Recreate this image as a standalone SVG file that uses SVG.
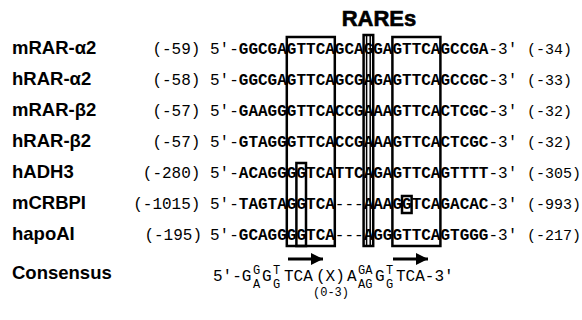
<svg xmlns="http://www.w3.org/2000/svg" width="582" height="320" viewBox="0 0 582 320">
<style>
.lbl{font-family:"Liberation Sans",Arial,sans-serif;font-weight:bold;font-size:18.5px;fill:#000}
.ttl{font-family:"Liberation Sans",Arial,sans-serif;font-weight:bold;font-size:22px;fill:#000;stroke:#000;stroke-width:0.6}
.num{font-family:"Liberation Mono","Courier New",monospace;font-size:16px;fill:#000}
.rn{font-size:15px}
.seq{font-family:"Liberation Mono","Courier New",monospace;font-size:16px;fill:#000}
.b{font-weight:bold}
.box{fill:none;stroke:#000;stroke-width:2.5}
.thin{fill:none;stroke:#000;stroke-width:1.5}
.arr{stroke:#000;stroke-width:3}
.con{font-family:"Liberation Mono","Courier New",monospace;font-size:16px;fill:#000}
.sm{font-size:12px}
</style>
<defs>
<marker id="ah" markerWidth="4" markerHeight="4" refX="4" refY="2" orient="auto" markerUnits="strokeWidth">
<path d="M0,0 L4,2 L0,4 Z" fill="#000"/>
</marker>
</defs>
<text class="ttl" x="379" y="26" text-anchor="middle">RAREs</text>
<g id="row1">
<text class="lbl" x="12" y="54">mRAR-α2</text>
<text class="num" x="200.4" y="54" text-anchor="end">(-59)</text>
<text class="seq" x="210" y="54">5'-<tspan class="b">GGCGAGTTCAGCAGGAGTTCAGCCGA</tspan>-3'</text>
<text class="num rn" x="527" y="54">(-34)</text>
</g>
<g id="row2">
<text class="lbl" x="12" y="85">hRAR-α2</text>
<text class="num" x="200.4" y="85" text-anchor="end">(-58)</text>
<text class="seq" x="210" y="85">5'-<tspan class="b">GGCGAGTTCAGCGAGAGTTCAGCCGC</tspan>-3'</text>
<text class="num rn" x="527" y="85">(-33)</text>
</g>
<g id="row3">
<text class="lbl" x="12" y="116">mRAR-β2</text>
<text class="num" x="200.4" y="116" text-anchor="end">(-57)</text>
<text class="seq" x="210" y="116">5'-<tspan class="b">GAAGGGTTCACCGAAAGTTCACTCGC</tspan>-3'</text>
<text class="num rn" x="527" y="116">(-32)</text>
</g>
<g id="row4">
<text class="lbl" x="12" y="147">hRAR-β2</text>
<text class="num" x="200.4" y="147" text-anchor="end">(-57)</text>
<text class="seq" x="210" y="147">5'-<tspan class="b">GTAGGGTTCACCGAAAGTTCACTCGC</tspan>-3'</text>
<text class="num rn" x="527" y="147">(-32)</text>
</g>
<g id="row5">
<text class="lbl" x="12" y="178">hADH3</text>
<text class="num" x="200.4" y="178" text-anchor="end">(-280)</text>
<text class="seq" x="210" y="178">5'-<tspan class="b">ACAGGGGTCATTCAGAGTTCAGTTTT</tspan>-3'</text>
<text class="num rn" x="527" y="178">(-305)</text>
</g>
<g id="row6">
<text class="lbl" x="12" y="209">mCRBPI</text>
<text class="num" x="200.4" y="209" text-anchor="end">(-1015)</text>
<text class="seq" x="210" y="209">5'-<tspan class="b">TAGTAGGTCA</tspan>---<tspan class="b">AAAGGTCAGACAC</tspan>-3'</text>
<text class="num rn" x="527" y="209">(-993)</text>
</g>
<g id="row7">
<text class="lbl" x="12" y="240">hapoAI</text>
<text class="num" x="202" y="240" text-anchor="end">(-195)</text>
<text class="seq" x="210" y="240">5'-<tspan class="b">GCAGGGGTCA</tspan>---<tspan class="b">AGGGTTCAGTGGG</tspan>-3'</text>
<text class="num rn" x="527" y="240">(-217)</text>
</g>
<g id="boxes">
<rect class="box" x="286.8" y="37" width="48" height="209"/>
<rect class="box" x="296.4" y="163" width="9.6" height="83"/>
<rect class="box" x="363.6" y="35" width="9.6" height="211"/>
<line class="thin" x1="366.6" y1="36" x2="366.6" y2="246"/>
<line class="thin" x1="370.2" y1="36" x2="370.2" y2="246"/>
<rect class="box" x="392.4" y="37" width="48" height="209"/>
<rect class="box" x="402" y="196" width="9.6" height="17"/>
</g>
<g id="connectors">
<line class="arr" x1="288" y1="259" x2="323" y2="259" marker-end="url(#ah)"/>
<line class="arr" x1="393" y1="259" x2="428" y2="259" marker-end="url(#ah)"/>
</g>
<g id="consensus">
<text class="lbl" x="12" y="279">Consensus</text>
<text class="con" x="213" y="281">5'-G</text>
<text class="con sm" x="253" y="274">G</text>
<text class="con sm" x="253" y="288">A</text>
<text class="con" x="262" y="281">G</text>
<text class="con sm" x="273" y="274">T</text>
<text class="con sm" x="273" y="288">G</text>
<text class="con" x="284" y="281">TCA</text>
<text class="con" x="316" y="281">(X)</text>
<text class="con sm" x="313" y="296">(0-3)</text>
<text class="con" x="347" y="281">A</text>
<text class="con sm" x="358" y="274">GA</text>
<text class="con sm" x="358" y="288">AG</text>
<text class="con" x="375" y="281">G</text>
<text class="con sm" x="386" y="274">T</text>
<text class="con sm" x="386" y="288">G</text>
<text class="con" x="396" y="281">TCA-3'</text>
</g>
</svg>
